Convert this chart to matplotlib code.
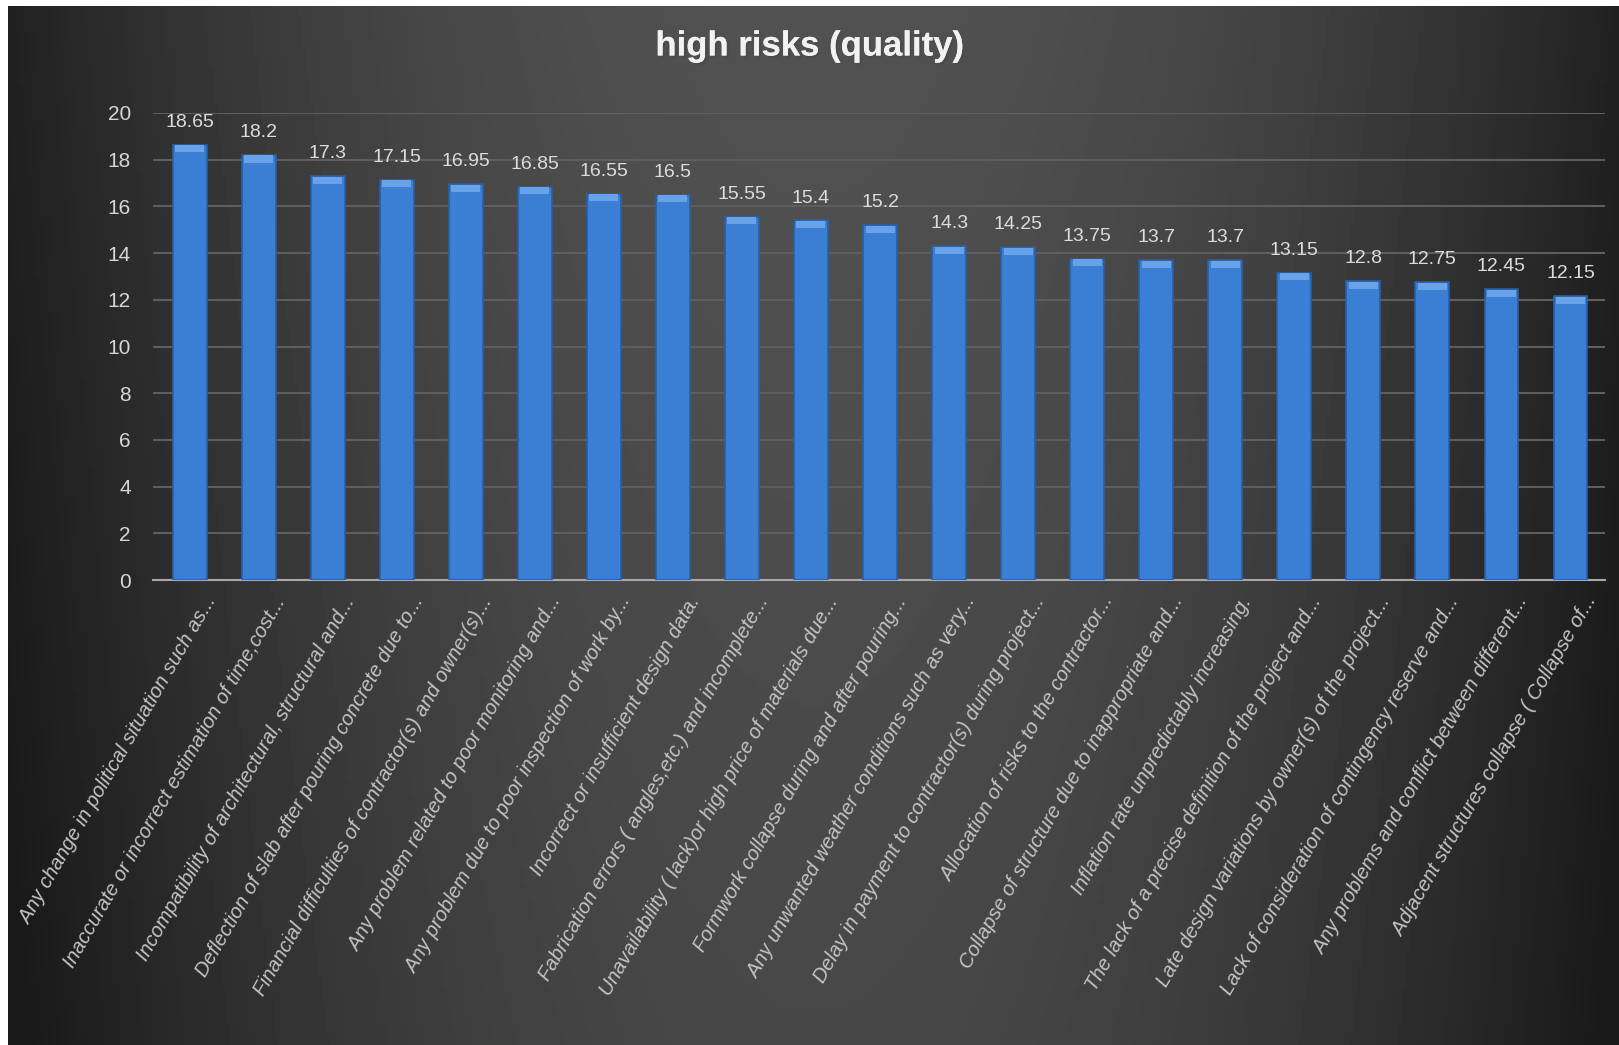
import numpy as np
import matplotlib
matplotlib.use('Agg')
import matplotlib.pyplot as plt
import matplotlib.transforms as mtransforms
import matplotlib.patheffects as pe

# data
risks = [
    'Any change in political situation such as...',
    'Inaccurate or incorrect estimation of time,cost...',
    'Incompatibility of architectural, structural and...',
    'Deflection of slab after pouring concrete due to...',
    'Financial difficulties of contractor(s) and owner(s)...',
    'Any problem related to poor monitoring and...',
    'Any problem due to poor inspection of work by...',
    'Incorrect or insufficient design data.',
    'Fabrication errors ( angles,etc.) and incomplete...',
    'Unavailability ( lack)or high price of materials due...',
    'Formwork collapse during and after pouring...',
    'Any unwanted weather conditions such as very...',
    'Delay in payment to contractor(s) during project...',
    'Allocation of risks to the contractor...',
    'Collapse of structure due to inappropriate and...',
    'Inflation rate unpredictably increasing.',
    'The lack of a precise definition of the project and...',
    'Late design variations by owner(s) of the project...',
    'Lack of consideration of contingency reserve and...',
    'Any problems and conflict between different...',
    'Adjacent structures collapse ( Collapse of...',
]
scores = [18.65, 18.2, 17.3, 17.15, 16.95, 16.85, 16.55, 16.5, 15.55, 15.4, 15.2,
          14.3, 14.25, 13.75, 13.7, 13.7, 13.15, 12.8, 12.75, 12.45, 12.15]
yticks = [0, 2, 4, 6, 8, 10, 12, 14, 16, 18, 20]

font = ['Liberation Sans', 'DejaVu Sans']
plt.rcParams['font.family'] = font

W, H = 1619, 1045
fig = plt.figure(figsize=(W / 100, H / 100), dpi=100, facecolor='white')

# dark gradient background
bg = fig.add_axes([8 / W, 0, 1 - 8 / W, 1 - 6 / H])
bg.set_axis_off()
gx = np.linspace(0, 1, 400)
gy = np.linspace(0, 1, 200)
X, Y = np.meshgrid(gx, gy)
shade = 0.32 - 0.19 * ((X - 0.5) / 0.5) ** 2 - 0.04 * Y
shade = np.clip(shade, 0.1, 0.4)
bg.imshow(shade, cmap='gray', vmin=0, vmax=1, aspect='auto', extent=[0, 1, 0, 1])

ax = fig.add_axes([153 / W, 1 - 580 / H, (1605 - 153) / W, (580 - 113) / H])
ax.set_facecolor('none')
x = np.arange(len(scores))
ax.bar(x, scores, width=0.49, color='#3b7fd4', edgecolor='#2a5ea6', linewidth=1.2, zorder=3)
# lighter cap at the top of each bar
ax.bar(x, [0.3] * len(scores), bottom=np.array(scores) - 0.32, width=0.42,
       color='#68a3ea', linewidth=0, zorder=4)

for xi, v in zip(x, scores):
    ax.annotate('%g' % v, (xi, v), xytext=(0, 10), textcoords='offset points',
                ha='center', va='bottom', color='#dcdcdc', fontsize=14, family=font)

ax.set_xlim(-0.53, len(scores) - 0.5)
ax.set_ylim(0, 20)
ax.set_yticks(yticks)
ax.grid(axis='y', color='#5e5e5e', linewidth=1.5, zorder=0)
for s in ['top', 'right', 'left']:
    ax.spines[s].set_visible(False)
ax.spines['bottom'].set_color('#a8a8a8')
ax.spines['bottom'].set_linewidth(1.5)
ax.tick_params(axis='both', length=0, colors='#d6d6d6')
ax.tick_params(axis='y', labelsize=15, pad=16)

ax.set_xticks(x)
ax.set_xticklabels(risks, rotation=60, ha='right', va='top', rotation_mode='anchor',
                   fontsize=14.5, style='italic', color='#c4c4c4', family=font)
offset = mtransforms.ScaledTranslation(14 / 100, -8 / 100, fig.dpi_scale_trans)
for lab in ax.get_xticklabels():
    lab.set_transform(lab.get_transform() + offset)

fig.text(0.5, 1 - 46 / H, 'high risks (quality)', ha='center', va='center',
         fontsize=25, fontweight='bold', color='#f2f2f2', family=font,
         path_effects=[pe.withSimplePatchShadow(offset=(1.5, -1.5), alpha=0.6), pe.Normal()])

fig.savefig('out.png', dpi=100, facecolor='white')
